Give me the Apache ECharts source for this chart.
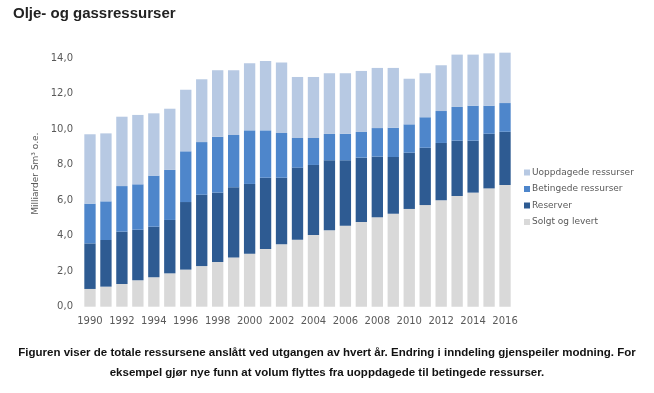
<!DOCTYPE html>
<html>
<head>
<meta charset="utf-8">
<script src="https://cdn.jsdelivr.net/npm/echarts@6/dist/echarts.min.js"></script>
<style>html,body{margin:0;padding:0;background:#fff;}#c{width:654px;height:393px;}</style>
</head>
<body>
<div id="c"></div>
<script>
var years = ['1990','1991','1992','1993','1994','1995','1996','1997','1998','1999','2000','2001','2002','2003','2004','2005','2006','2007','2008','2009','2010','2011','2012','2013','2014','2015','2016'];
var solgt      = [1.00,1.13,1.28,1.49,1.66,1.88,2.09,2.29,2.52,2.78,2.99,3.25,3.52,3.78,4.04,4.31,4.57,4.77,5.04,5.24,5.51,5.73,6.00,6.24,6.43,6.67,6.86];
var reserver   = [2.57,2.63,2.95,2.85,2.85,3.01,3.81,4.02,3.91,3.95,3.93,4.02,3.75,4.06,3.95,3.94,3.68,3.63,3.42,3.20,3.17,3.23,3.23,3.12,2.93,3.08,3.00];
var betingede  = [2.24,2.18,2.57,2.56,2.88,2.82,2.86,2.97,3.15,2.95,3.02,2.67,2.52,1.67,1.52,1.49,1.50,1.45,1.61,1.65,1.60,1.72,1.80,1.90,1.97,1.58,1.62];
var uoppdagede = [3.91,3.83,3.91,3.91,3.51,3.45,3.47,3.54,3.75,3.65,3.78,3.91,3.97,3.44,3.44,3.42,3.41,3.44,3.39,3.37,2.57,2.48,2.58,2.95,2.88,2.95,2.84];
var seriesNames = ['Solgt og levert','Reserver','Betingede ressurser','Uoppdagede ressurser'];
var legendOrder = ['Uoppdagede ressurser','Betingede ressurser','Reserver','Solgt og levert'];
var colors = ['#D9D9D9','#2E5B92','#4E86CB','#B7C9E3'];
var titleText = 'Olje- og gassressurser';
var captionLines = ['Figuren viser de totale ressursene anslått ved utgangen av hvert år. Endring i inndeling gjenspeiler modning. For',
                    'eksempel gjør nye funn at volum flyttes fra uoppdagede til betingede ressurser.'];
var yName = 'Milliarder Sm³ o.e.';

var chart = echarts.init(document.getElementById('c'), null, {renderer:'canvas'});
var dataSets = [solgt, reserver, betingede, uoppdagede];
var series = seriesNames.map(function(n,i){
  return {name:n, type:'bar', stack:'total', data:dataSets[i], barCategoryGap:'29%',
    itemStyle:{color:colors[i]}};
});
var captionGraphics = captionLines.map(function(t,i){
  return {type:'text', left:'center', top:347 + i*20,
    style:{text:t, fontFamily:'Liberation Sans', fontWeight:'bold', fontSize:11.5, fill:'#111'}};
});
chart.setOption({
  animation:false,
  title:{text:titleText, left:8, top:1, textStyle:{fontFamily:'Liberation Sans', fontWeight:'bold', fontSize:15, color:'#222'}},
  graphic:captionGraphics,
  legend:{
    data:legendOrder, orient:'vertical', left:519, top:163, itemWidth:6, itemHeight:6, itemGap:7.5,
    icon:'rect',
    textStyle:{fontFamily:'DejaVu Sans', fontSize:9, color:'#595959', padding:[0,0,0,-3]}
  },
  grid:{left:82, right:141, top:40.6, bottom:86.3},
  xAxis:{type:'category', data:years,
    axisLine:{show:false}, axisTick:{show:false},
    axisLabel:{interval:1, color:'#595959', fontFamily:'DejaVu Sans', fontSize:10, margin:10}
  },
  yAxis:{type:'value', min:0, max:15, interval:2,
    name:yName, nameLocation:'middle', nameGap:37,
    nameTextStyle:{fontFamily:'DejaVu Sans', fontSize:9, color:'#595959'},
    splitLine:{show:false}, axisLine:{show:false}, axisTick:{show:false},
    axisLabel:{showMaxLabel:false, color:'#595959', fontFamily:'DejaVu Sans', fontSize:10, margin:9,
      formatter:function(v){ return v % 2 === 0 ? v.toFixed(1).replace('.',',') : ''; }}
  },
  series:series
});
</script>
</body>
</html>
